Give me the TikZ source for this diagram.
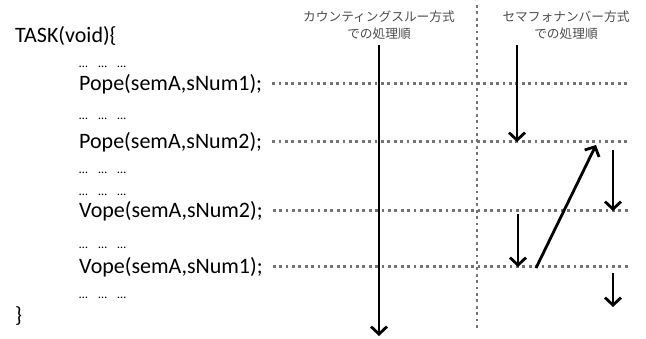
\documentclass[tikz,border=0pt]{standalone}
\usepackage{fontspec}
\setmainfont{Carlito}
\newfontfamily\jpfont{Noto Sans CJK JP}
\usetikzlibrary{arrows.meta}

% a skipped stretch of code
\newcommand{\gap}{…\hspace{10.5pt}…\hspace{10.5pt}…}

\begin{document}
\begin{tikzpicture}[x=1pt,y=-1pt,
    code/.style={anchor=base west, inner sep=0pt, font=\fontsize{22}{22}\selectfont},
    skip/.style={anchor=base west, inner sep=0pt, font=\fontsize{12.5}{12.5}\selectfont},
    head/.style={align=center, inner sep=0pt, text=black!70, font=\jpfont\fontsize{12.7}{17}\selectfont},
    guide/.style={black!55, line width=2.8pt, dash pattern=on 2.8pt off 3.6pt},
    order/.style={-{Straight Barb[length=7.5pt,width=16pt]}, line width=2.8pt}]
    \useasboundingbox (0,0) rectangle (646,338);

    % the task body
    \node[code] (task) at (15,42) {TASK(void)\{};
    \node[skip] (skip1) at (79,67) {\gap};
    \node[code] (pa) at (79,90) {Pope(semA,sNum1);};
    \node[skip] (skip2) at (79,119) {\gap};
    \node[code] (pb) at (79,148) {Pope(semA,sNum2);};
    \node[skip] (skip3) at (79,173) {\gap};
    \node[skip] (skip4) at (79,195) {\gap};
    \node[code] (vb) at (79,217) {Vope(semA,sNum2);};
    \node[skip] (skip5) at (79,248) {\gap};
    \node[code] (va) at (79,273) {Vope(semA,sNum1);};
    \node[skip] (skip6) at (79,298) {\gap};
    \node[code] (close) at (15,322) {\}};

    % column titles
    \node[head] (hcount) at (379,25) {カウンティングスルー方式\\での処理順};
    \node[head] (hsem) at (566,25) {セマフォナンバー方式\\での処理順};

    % dotted guides
    \coordinate (rim) at (628,0);
    \coordinate (divtop) at (477,5);
    \coordinate (divbot) at (477,330);
    \draw[guide, line width=2.2pt] (divtop) -- (divbot);
    \foreach \n in {pa,pb,vb,va}
        \draw[guide] ([xshift=10pt]\n.east) -- (\n.east -| rim);

    % counting-through order
    \coordinate (c0) at (379,45);
    \coordinate (c1) at (379,336);
    \draw[order] (c0) -- (c1);

    % semaphore-number order
    \coordinate (s0) at (517,45);
    \coordinate (s1) at (517,142);
    \coordinate (s2) at (536,268);
    \coordinate (s3) at (596,145);
    \coordinate (s4) at (613,150);
    \coordinate (s5) at (613,211);
    \coordinate (s6) at (518,214);
    \coordinate (s7) at (518,267);
    \coordinate (s8) at (613,273);
    \coordinate (s9) at (613,307);
    \draw[order] (s0) -- (s1);
    \draw[order] (s2) -- (s3);
    \draw[order] (s4) -- (s5);
    \draw[order] (s6) -- (s7);
    \draw[order] (s8) -- (s9);
\end{tikzpicture}
\end{document}
